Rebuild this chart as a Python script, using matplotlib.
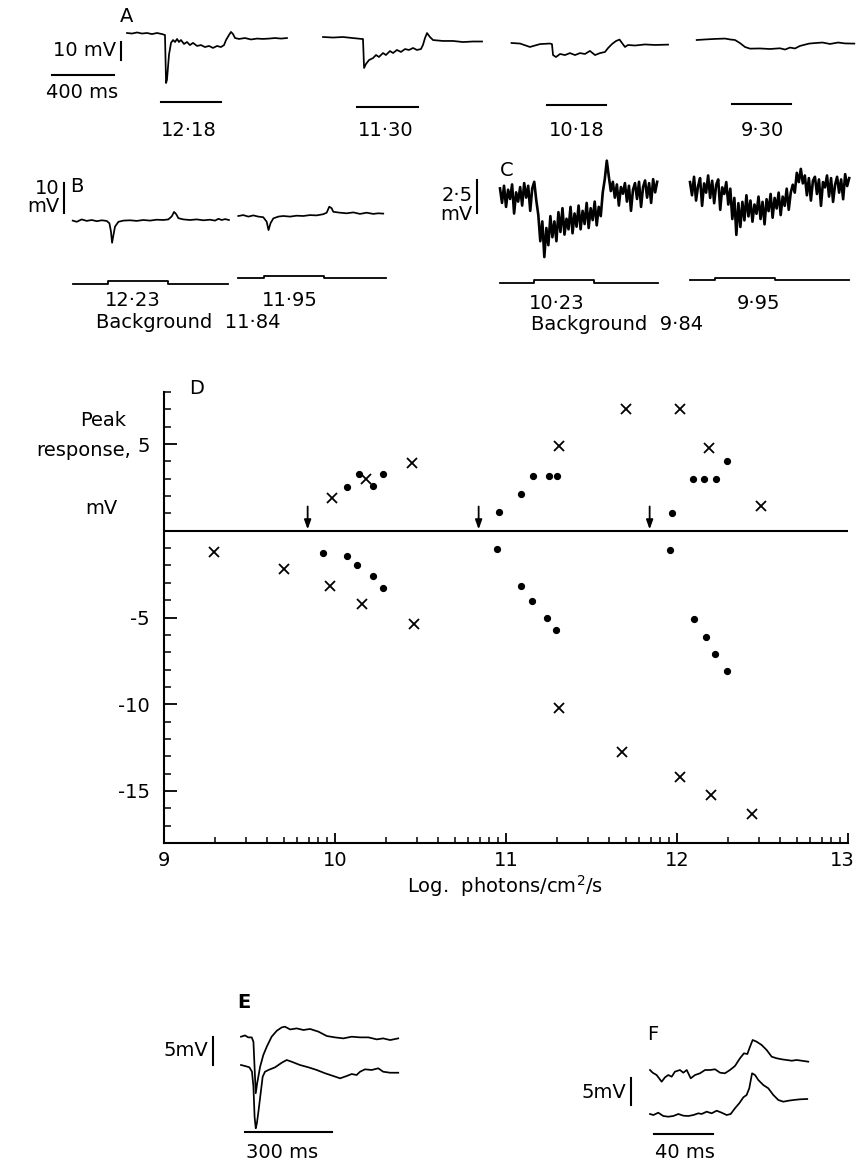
import numpy as np
import matplotlib
matplotlib.use("Agg")
import matplotlib.pyplot as plt
from matplotlib.transforms import ScaledTranslation

plt.rcParams['font.family'] = ['DejaVu Sans']
plt.rcParams['axes.unicode_minus'] = False

# ---------------- Panel D data (log photons/cm2/s, peak response mV) ----------------
cross_x = [9.29, 9.70, 9.97, 9.98, 10.16, 10.18, 10.45, 10.46, 11.31, 11.31,
           11.68, 11.70, 12.02, 12.02, 12.19, 12.20, 12.44, 12.49]
cross_y = [-1.2, -2.2, -3.2, 1.9, -4.2, 3.0, 3.9, -5.35, 4.9, -10.2,
           -12.75, 7.0, 7.0, -14.2, 4.75, -15.25, -16.3, 1.4]
dot_x = [10.07, 10.14, 10.22, 10.28, 9.93, 10.07, 10.13, 10.22, 10.28,
         10.96, 11.09, 11.16, 11.25, 11.30, 10.95, 11.085, 11.15, 11.24, 11.29,
         11.97, 12.095, 12.16, 12.23, 12.29, 11.96, 12.10, 12.17, 12.22, 12.29]
dot_y = [2.5, 3.25, 2.6, 3.3, -1.26, -1.45, -2.0, -2.6, -3.3,
         1.1, 2.1, 3.15, 3.15, 3.15, -1.05, -3.2, -4.07, -5.03, -5.7,
         1.0, 3.0, 2.97, 3.0, 4.0, -1.1, -5.1, -6.1, -7.1, -8.1]
backgrounds = [9.84, 10.84, 11.84]
x_ticks = [9, 10, 11, 12, 13]
y_ticks = [-15, -10, -5, 0, 5]
y_ticklabels = ['-15', '-10', '-5', '', '5']

# ---------------- Panel A traces (ms, mV) ----------------
A_labels = ['12·18', '11·30', '10·18', '9·30']
A1_t = [0, 32, 65, 97, 129, 161, 194, 226, 245, 252, 258, 271, 284, 297, 310, 323, 335, 348,
        368, 387, 406, 426, 452, 477, 503, 529, 555, 581, 606, 626, 639, 658, 671, 684, 697,
        723, 761, 800, 839, 877, 916, 955, 994, 1032]
A1_v = [0, -0.3, 0.3, -0.3, 0, -0.6, 0, -0.6, -1.1, -27.8, -26, -12, -5.5, -3.9, -5, -3.3, -5, -3.9,
        -6.1, -5, -6.7, -5.5, -7.2, -6.7, -7.8, -7.2, -8.3, -7.2, -7.8, -6.7, -3.9, -1.1, 0.6, -0.6, -2.8,
        -3.3, -2.8, -3.6, -3.1, -3.3, -3.1, -2.8, -3.1, -2.8]
A2_t = [0, 65, 129, 194, 252, 258, 265, 277, 297, 323, 342, 361, 387, 406, 432, 452, 477, 503,
        529, 555, 581, 606, 632, 645, 658, 671, 690, 710, 774, 839, 903, 968, 1026]
A2_v = [0, -0.3, 0, -0.6, -1.1, -1.1, -17.2, -15, -12.8, -11.7, -10, -11.1, -8.9, -10, -7.8, -8.9,
        -7.2, -8.3, -6.7, -7.2, -6.1, -7.2, -6.7, -4.4, -0.6, 2.2, 0, -1.7, -2.2, -2.2, -2.8, -2.5, -2.5]
A3_t = [0, 55, 119, 184, 248, 261, 268, 287, 313, 345, 377, 410, 442, 474, 506, 539, 571, 603,
        623, 648, 674, 697, 713, 732, 752, 797, 861, 926, 1010]
A3_v = [0, -0.3, -2.2, -0.6, -0.3, -0.6, -6.7, -7.8, -6.1, -6.7, -5.6, -6.7, -5.6, -6.1, -4.4, -6.7,
        -5.6, -5, -2.8, -0.6, 1.1, 1.9, 0, -2.2, -1.1, -1.4, -0.8, -1.1, -0.9]
A4_t = [0, 54, 118, 183, 215, 247, 279, 312, 344, 408, 473, 537, 570, 602, 634, 666, 725, 763,
        812, 860, 912, 957, 1017]
A4_v = [0, 0.3, 0.6, 0.8, 0.3, 0, -1.7, -3.9, -4.8, -4.7, -5, -4.6, -5.3, -4.2, -4.7, -3.3, -2,
        -1.7, -1.4, -2.2, -1.4, -1.9, -2]
A_stim_on = [220, 220, 227, 228]
A_stim_off = [606, 613, 610, 606]
A_stim_level = [-38.3, -38.9, -34.4, -35.6]

# ---------------- Panel B traces ----------------
B_labels = ['12·23', '11·95']
B1_t = [0, 26, 58, 90, 123, 155, 187, 219, 237, 247, 254, 263, 273, 295, 327, 370, 413, 456,
        499, 542, 585, 617, 639, 654, 667, 682, 714, 757, 800, 843, 886, 918, 940, 961, 983, 1008]
B1_v = [-0.2, -0.6, 0.2, -0.3, 0, -0.4, -0.1, -0.3, -1.1, -3.9, -7.6, -5, -2.2, -0.6, -0.2, -0.1,
        -0.3, 0, -0.2, 0.1, 0, 0.2, 1.2, 2.7, 2, 0.6, 0.2, 0, 0.2, -0.1, 0.1, -0.2, 0.4, 0, 0.3, 0]
B2_t = [0, 32, 65, 97, 129, 161, 183, 195, 208, 226, 258, 290, 334, 376, 419, 463, 505, 548,
        570, 587, 602, 613, 656, 699, 742, 785, 828, 871, 903, 935]
B2_v = [0, 0.3, -0.2, 0.2, -0.2, -0.4, -1.9, -4.7, -2.4, -0.8, -0.2, 0, -0.2, 0.1, 0, 0.3, 0.2,
        0.6, 1.1, 3.1, 2.6, 1.4, 1.1, 0.9, 1.2, 0.7, 1.1, 0.7, 0.9, 0.8]
B_stim_on = [226, 168]
B_stim_off = [613, 555]
B_mon_end = [1000, 955]
B_mon_level = [-21.3, -20.7]
B_mon_step = [1.0, 0.7]

# ---------------- Panel C traces (sampled every 13 ms) ----------------
C_labels = ['10·23', '9·95']
C_dt = 13
C1_v = [0.5, -0.6, 0.7, -0.9, 0.4, -0.3, 0.8, -1.4, 0.2, -0.5, 0.6, -0.8, 0.9, -0.2, 0.7, -1.2,
        0.5, 1.0, -0.4,
        -1.5, -3.5, -2.0, -4.7, -2.5, -3.8, -1.6, -3.2, -2.0, -3.5, -1.3, -2.8, -1.0, -3.0, -1.8,
        -2.6, -0.9, -2.9, -1.4, -2.4, -0.8, -2.6, -1.2, -2.2, -0.6, -2.5, -1.0, -1.9, -0.5, -2.3,
        -0.9, -1.6, 0.2, 1.2, 2.6, 1.4, 0.3, 1.0, -0.2, 0.8, -0.8, 0.6, 0.1, 0.9, -0.5, 0.7, -1.2,
        0.4, 0.9, -0.3, 1.0, -0.9, 0.6, 1.1, -0.2, 0.9, -0.6, 1.2, 0.2, 1.0]
C2_v = [0.6, -0.4, 1.0, -0.8, 0.3, 0.9, -1.2, 0.5, -0.2, 1.1, -0.6, 0.7, -1.0, 0.4, 0.8, -1.5,
        0.2, -0.3, 0.6, -1.1, 0.1,
        -2.2, -0.6, -3.4, -1.0, -2.8, -0.9, -2.3, -0.4,
        -2.0, -0.8, -2.4, -1.1, -1.8, -0.5, -2.2, -0.9, -2.6, -0.7, -1.6, -0.3, -2.1, -0.6, -1.4,
        -0.2, -1.9, -0.5, -1.2, 0.1, -1.5, -0.2,
        0.4, -0.2, 1.3, 0.6, 1.6,
        0.5, 1.1, -0.4, 0.9, -0.8, 0.7, 1.0, -0.3, 0.8, -1.2, 0.6, 0.2, 1.1, -0.5, 0.9, -0.9, 0.4,
        1.0, -0.2, 0.8, -0.7, 1.2, 0.3, 0.9]
C_stim_on = [219, 161]
C_stim_off = [606, 548]
C_mon_end = [1019, 1026]
C_mon_level = [-6.67, -6.82]
C_mon_step = [0.23, 0.15]

# ---------------- Panel E traces ----------------
E1_t = [0, 14, 25, 37, 43, 51, 56, 66, 77, 89, 106, 124, 141, 152, 170, 193, 216, 239, 268, 297,
        325, 354, 383, 412, 441, 470, 492, 516, 544]
E1_v = [0, 0.23, -0.12, -0.12, -0.9, -10.1, -8.3, -5.4, -3.3, -1.8, 0, 1.07, 1.66, 1.79, 1.3, 1.48,
        1.2, 1.38, 0.9, 0.12, -0.12, -0.3, 0, -0.12, -0.12, -0.48, -0.3, -0.6, -0.3]
E2_t = [0, 14, 29, 38, 43, 47, 51, 55, 61, 68, 75, 83, 95, 118, 141, 158, 175, 204, 233, 262, 291,
        319, 343, 366, 383, 400, 412, 429, 452, 475, 492, 516, 544]
E2_v = [0, -0.18, -0.41, -1.2, -3.87, -9.23, -11.3, -10.4, -8.04, -5.05, -2.09, -1.2, -0.89, -0.41,
        0.41, 0.89, 0.59, 0, -0.41, -0.89, -1.48, -1.96, -2.38, -1.96, -1.61, -1.79, -1.2, -0.77,
        -0.89, -0.59, -1.2, -1.38, -1.38]

# ---------------- Panel F traces ----------------
F1_t = [0, 1.8, 4.5, 7.9, 10.2, 12.4, 14.7, 16.9, 20.3, 22.6, 24.9, 27.6, 30.5, 33.9, 37.3, 40.7,
        44.1, 47.5, 50.8, 54.2, 57.6, 61, 63.7, 66, 67.8, 69.6, 72.3, 75.7, 79.1, 82.5, 85.9, 89.3,
        92.7, 96.1, 99.5, 102.8, 107.3]
F1_v = [0, -0.5, -0.93, -2.17, -1.35, -0.93, -1.24, -0.31, 0, -0.5, 0, -1.54, -0.93, -0.61, 0, 0,
        0.13, -0.5, -0.61, 0, 0.74, 2.17, 3.09, 2.96, 4.31, 5.56, 5.24, 4.63, 3.7, 2.46, 2.17, 1.98,
        1.85, 1.72, 1.85, 1.72, 1.54]
F2_t = [0, 2.3, 5.6, 9, 12.4, 15.8, 19.2, 22.6, 26, 29.4, 32.8, 35, 38.4, 41.8, 45.2, 48.6, 52,
        54.7, 57.6, 60.5, 63.3, 65.5, 67.3, 69.2, 71.2, 73.4, 76.8, 80.2, 83.6, 87, 90.4, 93.8,
        97.2, 101.7, 106.6]
F2_v = [0, -0.19, 0.24, -0.37, -0.5, -0.37, 0, -0.31, -0.37, -0.19, 0.13, 0, 0.43, 0.13, 0.61,
        0.24, -0.19, 0, 1.06, 1.98, 3.09, 3.52, 4.76, 7.54, 7.22, 6.3, 5.37, 4.76, 3.52, 2.59, 2.28,
        2.46, 2.59, 2.72, 2.78]

# ====================================================================================
W, H = 857, 1165
fig = plt.figure(figsize=(W / 100, H / 100), dpi=100)
FS = 14
LW = 1.25


def ftext(x, y, s, ha='center', va='center', fs=FS, **kw):
    fig.text(x / W, 1 - y / H, s, ha=ha, va=va, fontsize=fs, **kw)


def trace_ax(x0, y0, sx, sy, trange=(-700, 1100), vrange=(-45, 15)):
    """Axes in which (t=0, v=0) sits at pixel (x0, y0); sx px/ms, sy px/mV."""
    t0, t1 = trange
    v0, v1 = vrange
    left, right = x0 + t0 * sx, x0 + t1 * sx
    top, bottom = y0 - v1 * sy, y0 - v0 * sy
    ax = fig.add_axes([left / W, 1 - bottom / H, (right - left) / W, (bottom - top) / H])
    ax.set_xlim(t0, t1)
    ax.set_ylim(v0, v1)
    ax.axis('off')
    return ax


def line(ax, x, y, lw=LW):
    ax.plot(x, y, color='k', lw=lw, clip_on=False, solid_joinstyle='round')


# ---------------- Panel A ----------------
sxA, syA = 0.155, 1.8
A_origins = [(127, 33), (323, 37), (511.5, 43), (696.7, 40)]
A_traces = [(A1_t, A1_v), (A2_t, A2_v), (A3_t, A3_v), (A4_t, A4_v)]
A_label_x = [189, 386, 577, 762]
for i, ((x0, y0), (t, v)) in enumerate(zip(A_origins, A_traces)):
    ax = trace_ax(x0, y0, sxA, syA)
    line(ax, t, v)
    line(ax, [A_stim_on[i], A_stim_off[i]], [A_stim_level[i]] * 2, lw=1.5)
    if i == 0:
        # scale bars: 10 mV and 400 ms
        line(ax, [-39, -39], [-5, -15], lw=1.5)
        line(ax, [-484, -84], [-23.3, -23.3], lw=1.5)
    ftext(A_label_x[i], 131, A_labels[i])
ftext(127, 17, 'A')
ftext(116, 51, '10 mV', ha='right')
ftext(82, 93, '400 ms')

# ---------------- Panel B ----------------
sxB, syB = 0.155, 3.0
B_origins = [(72.7, 220), (238.3, 216)]
B_traces = [(B1_t, B1_v), (B2_t, B2_v)]
B_label_x = [133, 290]
for i, ((x0, y0), (t, v)) in enumerate(zip(B_origins, B_traces)):
    ax = trace_ax(x0, y0, sxB, syB)
    line(ax, t, v)
    base, d = B_mon_level[i], B_mon_step[i]
    on, off = B_stim_on[i], B_stim_off[i]
    line(ax, [0, on, on, off, off, B_mon_end[i]], [base, base, base + d, base + d, base, base], lw=1.3)
    if i == 0:
        line(ax, [-56, -56], [12.3, 2.3], lw=1.5)
    ftext(B_label_x[i], 300, B_labels[i])
ftext(77, 187, 'B')
ftext(60, 188, '10', ha='right')
ftext(60, 207, 'mV', ha='right')
ftext(188, 323, 'Background  11·84')

# ---------------- Panel C ----------------
sxC, syC = 0.155, 13.2
C_origins = [(500, 195), (690, 190)]
C_traces = [C1_v, C2_v]
C_label_x = [557, 759]
for i, ((x0, y0), v) in enumerate(zip(C_origins, C_traces)):
    ax = trace_ax(x0, y0, sxC, syC, vrange=(-10, 4))
    t = np.arange(len(v)) * C_dt
    line(ax, t, v, lw=1.9)
    base, d = C_mon_level[i], C_mon_step[i]
    on, off = C_stim_on[i], C_stim_off[i]
    line(ax, [0, on, on, off, off, C_mon_end[i]], [base, base, base + d, base + d, base, base], lw=1.3)
    if i == 0:
        line(ax, [-148, -148], [1.14, -1.36], lw=1.5)
    ftext(C_label_x[i], 303, C_labels[i])
ftext(507, 170, 'C')
ftext(473, 195, '2·5', ha='right')
ftext(473, 214, 'mV', ha='right')
ftext(617, 324, 'Background  9·84')

# ---------------- Panel D ----------------
axD = fig.add_axes([164 / W, 1 - 843 / H, 684 / W, 451 / H])
axD.set_xlim(9, 13)
axD.set_ylim(-18, 8)
for s in ['top', 'right']:
    axD.spines[s].set_visible(False)
for s in ['left', 'bottom']:
    axD.spines[s].set_linewidth(1.5)
axD.axhline(0, color='k', lw=1.5)
axD.set_xticks(x_ticks)
axD.set_xticklabels([str(v) for v in x_ticks])
axD.set_xticks([d + np.log10(k) for d in x_ticks[:-1] for k in range(2, 10)], minor=True)
axD.set_yticks(y_ticks)
axD.set_yticklabels(y_ticklabels)
axD.set_yticks(np.arange(-18, 9), minor=True)
axD.tick_params(axis='x', which='major', direction='in', length=7, width=1.3, pad=6, labelsize=FS)
axD.tick_params(axis='x', which='minor', direction='in', length=4, width=1.1)
axD.tick_params(axis='y', which='major', direction='in', length=9, width=1.3, pad=10, labelsize=FS)
axD.tick_params(axis='y', which='minor', direction='in', length=5, width=1.1)
last = axD.get_xticklabels()[-1]
last.set_transform(last.get_transform() + ScaledTranslation(-6 / 100, 0, fig.dpi_scale_trans))
axD.plot(cross_x, cross_y, 'x', color='k', ms=7, mew=1.3, clip_on=False)
axD.plot(dot_x, dot_y, 'o', color='k', ms=4.2, clip_on=False)
for b in backgrounds:
    axD.annotate('', xy=(b, 0.08), xytext=(b, 1.4),
                 arrowprops=dict(arrowstyle='-|>,head_length=0.55,head_width=0.2',
                                 color='k', lw=1.3, shrinkA=0, shrinkB=0))
ftext(197, 388, 'D')
ftext(103, 421, 'Peak')
ftext(84, 450, 'response,')
ftext(101, 508, 'mV')
ftext(505, 886, r'Log.  photons/cm$^2$/s')

# ---------------- Panel E ----------------
sxE, syE = 0.289, 5.6
axE1 = trace_ax(241, 1036.7, sxE, syE, trange=(-150, 600), vrange=(-20, 5))
line(axE1, E1_t, E1_v)
line(axE1, [-96, -96], [0, -5], lw=1.5)
line(axE1, [14, 314], [-17.1, -17.1], lw=1.5)
axE2 = trace_ax(241, 1065, sxE, syE, trange=(-150, 600), vrange=(-15, 5))
line(axE2, E2_t, E2_v)
ftext(244, 1003, 'E', fontweight='bold')
ftext(208, 1051, '5mV', ha='right')
ftext(282, 1152, '300 ms')

# ---------------- Panel F ----------------
sxF, syF = 1.475, 5.4
axF1 = trace_ax(650, 1070, sxF, syF, trange=(-20, 115), vrange=(-15, 8))
line(axF1, F1_t, F1_v)
line(axF1, [-12.9, -12.9], [-1.48, -6.48], lw=1.5)
line(axF1, [2.9, 42.9], [-11.85, -11.85], lw=1.5)
axF2 = trace_ax(650, 1114, sxF, syF, trange=(-20, 115), vrange=(-5, 10))
line(axF2, F2_t, F2_v)
ftext(653, 1035, 'F')
ftext(626, 1093, '5mV', ha='right')
ftext(685, 1153, '40 ms')

fig.savefig('out.png', dpi=100)
